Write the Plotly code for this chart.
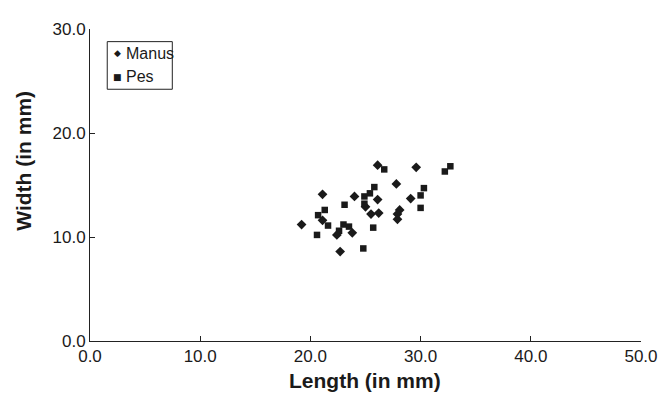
import plotly.graph_objects as go

# Data
manus_length = [26.1, 29.6, 27.8, 21.1, 24.0, 29.1, 26.1, 25.0, 28.1, 26.2, 25.5, 27.9, 27.9, 19.2, 21.1, 23.8, 22.4, 22.7]
manus_width = [16.9, 16.7, 15.1, 14.1, 13.9, 13.7, 13.6, 12.9, 12.6, 12.3, 12.2, 12.2, 11.7, 11.2, 11.6, 10.4, 10.2, 8.6]

pes_length = [32.7, 32.2, 26.7, 30.3, 25.8, 25.4, 24.9, 30.0, 23.1, 24.9, 21.3, 30.0, 20.7, 21.6, 23.0, 23.5, 25.7, 22.6, 20.6, 24.8]
pes_width = [16.8, 16.3, 16.5, 14.7, 14.8, 14.2, 13.9, 14.0, 13.1, 13.2, 12.6, 12.8, 12.1, 11.1, 11.2, 11.0, 10.9, 10.6, 10.2, 8.9]

x_ticks = [0, 10, 20, 30, 40, 50]
y_ticks = [0, 10, 20, 30]
series_names = ["Manus", "Pes"]

OFF = 8  # default page body margin
W, H = 670 - OFF, 395 - OFF
L, R, T, B = 89.5, 648.5, 20, 341  # plot area in page pixels

def px_x(p):
    return (p - L) / (R - L)

def px_y(p):
    return (B - p) / (B - T)

fig = go.Figure()
fig.add_trace(go.Scatter(x=manus_length, y=manus_width, mode="markers", name=series_names[0],
                         marker=dict(symbol="diamond", size=7.5, color="#1a1a1a", line=dict(width=0)),
                         showlegend=False))
fig.add_trace(go.Scatter(x=pes_length, y=pes_width, mode="markers", name=series_names[1],
                         marker=dict(symbol="square", size=6.5, color="#1a1a1a", line=dict(width=0)),
                         showlegend=False))

font_family = "Liberation Sans, Arial, sans-serif"
axis_common = dict(showline=True, linecolor="#222", linewidth=1, ticks="inside", ticklen=5,
                   tickcolor="#222", showgrid=False, zeroline=False, tickformat=".1f",
                   tickfont=dict(family=font_family, size=17, color="#1a1a1a"))

fig.update_layout(
    width=W, height=H,
    margin=dict(l=L - OFF, r=W - (R - OFF), t=T - OFF, b=H - (B - OFF)),
    paper_bgcolor="white", plot_bgcolor="white",
    xaxis=dict(range=[0, 50], tickvals=x_ticks, **axis_common),
    yaxis=dict(range=[0, 30], tickvals=y_ticks, **axis_common),
    showlegend=False,
)

# Axis titles
fig.add_annotation(text="<b>Length (in mm)</b>", xref="paper", yref="paper",
                   x=px_x(368), y=px_y(382), xanchor="center", yanchor="middle",
                   showarrow=False, font=dict(family=font_family, size=21, color="#1a1a1a"))
fig.add_annotation(text="<b>Width (in mm)</b>", xref="paper", yref="paper",
                   x=px_x(22), y=px_y(155), xanchor="center", yanchor="middle", textangle=-90,
                   showarrow=False, font=dict(family=font_family, size=21, color="#1a1a1a"))

# Legend box
fig.add_shape(type="rect", xref="paper", yref="paper",
              x0=px_x(107), x1=px_x(173), y0=px_y(82), y1=px_y(33),
              line=dict(color="#222", width=1), fillcolor="white", layer="above")
symbols = ["◆", "■"]
rows_y = [45, 69]
for name, sym, ry in zip(series_names, symbols, rows_y):
    fig.add_annotation(text=sym, xref="paper", yref="paper", x=px_x(117), y=px_y(ry),
                       xanchor="center", yanchor="middle", showarrow=False,
                       font=dict(family="DejaVu Sans", size=9, color="#1a1a1a"))
    fig.add_annotation(text=name, xref="paper", yref="paper", x=px_x(124), y=px_y(ry),
                       xanchor="left", yanchor="middle", showarrow=False,
                       font=dict(family=font_family, size=16, color="#1a1a1a"))

fig.write_html("out.html")
